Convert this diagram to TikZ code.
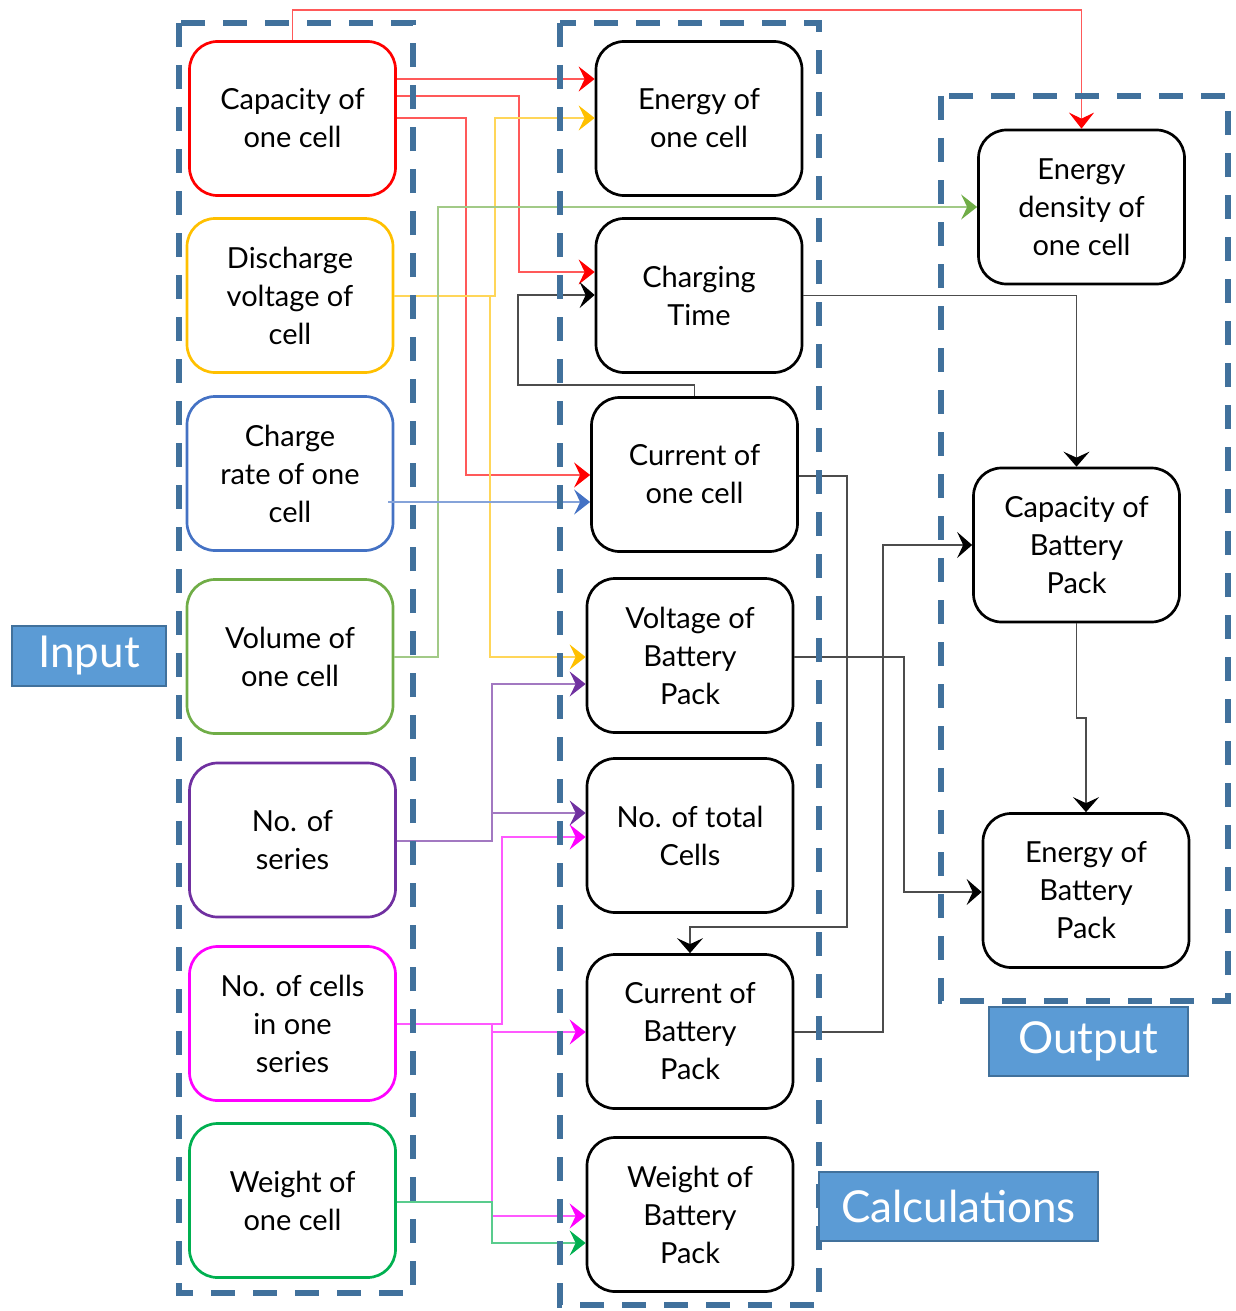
\documentclass[tikz,border=0pt]{standalone}
\usepackage{fontspec}
\setmainfont{Lato}
\usetikzlibrary{arrows.meta}
\definecolor{cred}{RGB}{255,0,0}
\definecolor{cyel}{RGB}{255,192,0}
\definecolor{cblu}{RGB}{68,114,196}
\definecolor{cgrn}{RGB}{112,173,71}
\definecolor{cpur}{RGB}{112,48,160}
\definecolor{cmag}{RGB}{255,0,255}
\definecolor{cgr2}{RGB}{0,176,80}
\definecolor{cblk}{RGB}{0,0,0}
\definecolor{frame}{RGB}{65,113,156}
\definecolor{labfill}{RGB}{91,155,213}
\begin{document}
\begin{tikzpicture}[x=1pt,y=-1pt,
  box/.style={draw=#1, line width=2.7pt, rounded corners=28pt,
    minimum width=206pt, minimum height=154pt, align=center,
    font=\fontsize{29}{38}\selectfont},
  cn/.style={line width=1.3pt, draw=#1!65,
    -{Stealth[length=16pt,width=25pt,inset=6pt,color=#1]}},
  kn/.style={line width=1.3pt, draw=black!70,
    -{Stealth[length=15pt,width=26pt,inset=6pt,color=black]}},
  dbox/.style={draw=frame, line width=6pt, dash pattern=on 24pt off 18pt},
  lab/.style={fill=labfill, draw=frame, line width=1.5pt, text=white,
    font=\fontsize{44}{50}\selectfont, inner sep=0pt}]
\useasboundingbox (0,0) rectangle (1235,1311);

% input quantities
\node[box=cred] (capN) at (292.5,118.5) {Capacity of\\one cell};
\node[box=cyel] (dv)   at (290,295.5)   {Discharge\\voltage of\\cell};
\node[box=cblu] (cr)   at (290,473.5)   {Charge\\rate of one\\cell};
\node[box=cgrn] (vol)  at (290,656.5)   {Volume of\\one cell};
\node[box=cpur] (ser)  at (292.5,840)   {No. of\\series};
\node[box=cmag] (cis)  at (292.5,1023.5){No. of cells\\in one\\series};
\node[box=cgr2] (woc)  at (292.5,1200.5){Weight of\\one cell};

% calculated quantities
\node[box=cblk] (eoc)  at (699,118.5)   {Energy of\\one cell};
\node[box=cblk] (ct)   at (699,295.5)   {Charging\\Time};
\node[box=cblk] (coc)  at (694.5,474.5) {Current of\\one cell};
\node[box=cblk] (vbp)  at (690,655.5)   {Voltage of\\Battery\\Pack};
\node[box=cblk] (ntc)  at (690,835.5)   {No. of total\\Cells};
\node[box=cblk] (cubp) at (690,1031.5)  {Current of\\Battery\\Pack};
\node[box=cblk] (wbp)  at (690,1214.5)  {Weight of\\Battery\\Pack};

% outputs
\node[box=cblk] (edc)  at (1081.5,207)  {Energy\\density of\\one cell};
\node[box=cblk] (cbp)  at (1076.5,545)  {Capacity of\\Battery\\Pack};
\node[box=cblk] (ebp)  at (1086,890.5)  {Energy of\\Battery\\Pack};

% capacity of one cell
\draw[cn=cred] (capN.north) -- (capN.north |- 0,10) -| (edc.north);
\draw[cn=cred] (capN.east |- 0,79) -- (eoc.west |- 0,79);
\draw[cn=cred] (capN.east |- 0,96) -| (519,272) -- (ct.west |- 0,272);
\draw[cn=cred] (capN.east |- 0,118) -| (466,475) -- (coc.west |- 0,475);
% discharge voltage
\draw[cn=cyel] (dv.east |- 0,296) -| (495,118) -- (eoc.west |- 0,118);
\draw[cn=cyel] (dv.east |- 0,296) -| (490,657) -- (vbp.west |- 0,657);
% volume
\draw[cn=cgrn] (vol.east |- 0,657) -| (438,207) -- (edc.west |- 0,207);
% charge rate
\draw[cn=cblu] (388,502) -- (coc.west |- 0,502);
% series
\draw[cn=cpur] (ser.east |- 0,841) -| (492,684) -- (vbp.west |- 0,684);
\draw[cn=cpur] (ser.east |- 0,841) -| (492,813) -- (ntc.west |- 0,813);
% cells in one series
\draw[cn=cmag] (cis.east |- 0,1024) -| (502,837) -- (ntc.west |- 0,837);
\draw[cn=cmag] (cis.east |- 0,1024) -| (492,1032) -- (cubp.west |- 0,1032);
\draw[cn=cmag] (cis.east |- 0,1024) -| (492,1216) -- (wbp.west |- 0,1216);
% weight of one cell
\draw[cn=cgr2] (woc.east |- 0,1202) -| (492,1243) -- (wbp.west |- 0,1243);

% calculated links
\draw[kn] (coc.north) -- (coc.north |- 0,385) -| (518,295) -- (ct.west |- 0,295);
\draw[kn] (ct.east) -| (cbp.north);
\draw[kn] (coc.east |- 0,476) -| (847,927) -| (cubp.north);
\draw[kn] (vbp.east |- 0,657) -| (904,892) -- (ebp.west |- 0,892);
\draw[kn] (cubp.east |- 0,1032) -| (883,545) -- (cbp.west |- 0,545);
\draw[kn] (cbp.south) -- (cbp.south |- 0,718) -| (ebp.north);

% group frames
\draw[dbox] (179,23) rectangle (413,1293);
\draw[dbox] (560,23) rectangle (819,1305);
\draw[dbox] (941,96) rectangle (1228,1001);

% group labels
\node[lab, minimum width=154pt, minimum height=60pt] (inlab) at (89,656) {Input};
\node[lab, minimum width=199pt, minimum height=69pt] (outlab) at (1088.5,1041.5) {Output};
\node[lab, minimum width=279pt, minimum height=69pt] (calclab) at (958.5,1206.5) {Calculations};
\end{tikzpicture}
\end{document}
